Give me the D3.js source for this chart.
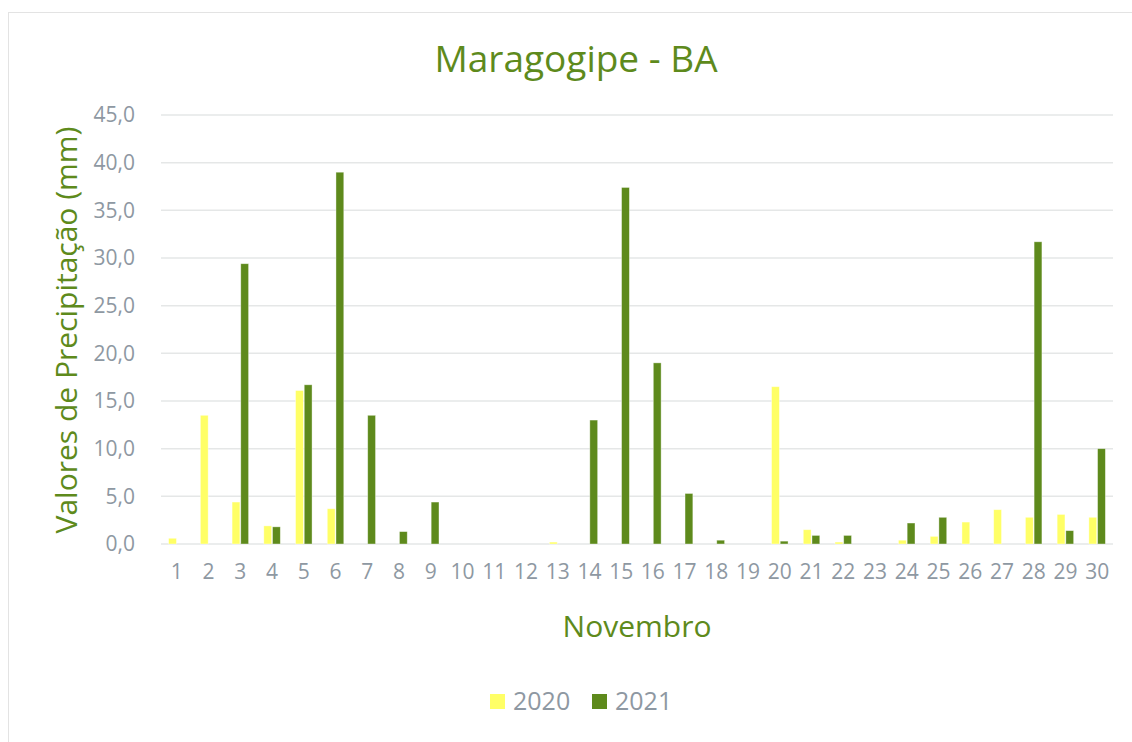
<!DOCTYPE html>
<html>
<head>
<meta charset="utf-8">
<script src="https://cdn.jsdelivr.net/npm/d3@7"></script>
<style>
  html, body { margin: 0; padding: 0; background: #fff; }
  svg { display: block; font-family: "Open Sans", "Noto Sans", sans-serif; }
</style>
</head>
<body>
<div id="chart"></div>
<script>
// Precipitação diária em novembro (mm)
const days = d3.range(1, 31);
const years = ["2020", "2021"];
const values2020 = [0.6, 13.5, 4.4, 1.9, 16.1, 3.7, 0, 0, 0, 0, 0, 0, 0.2, 0, 0,
                    0, 0, 0, 0, 16.5, 1.5, 0.2, 0, 0.4, 0.8, 2.3, 3.6, 2.8, 3.1, 2.8];
const values2021 = [0, 0, 29.4, 1.8, 16.7, 39.0, 13.5, 1.3, 4.4, 0, 0, 0, 0, 13.0, 37.4,
                    19.0, 5.3, 0.4, 0, 0.3, 0.9, 0.9, 0, 2.2, 2.8, 0, 0, 31.7, 1.4, 10.0];
const yTicks = d3.range(0, 46, 5);

const width = 1132, height = 742;
const green = "#5E8A1C";
const colors = { "2020": "#FFFF66", "2021": green };
const textGray = "#8E98A2";

const svg = d3.select("#chart").append("svg")
  .attr("width", width)
  .attr("height", height);

// chart frame
svg.append("rect")
  .attr("x", 8.5).attr("y", 12.5)
  .attr("width", 1140).attr("height", 760)
  .attr("fill", "#fff")
  .attr("stroke", "#E3E3E3");

const x = d3.scaleBand().domain(days).range([161, 1113]).paddingInner(0.48).paddingOuter(0.24);
const xs = d3.scaleBand().domain(years).range([0, x.bandwidth()]).paddingInner(0.1);
const y = d3.scaleLinear().domain([0, 45]).range([544, 115]);

// gridlines
svg.append("g").selectAll("line")
  .data(yTicks)
  .join("line")
  .attr("x1", 161).attr("x2", 1113)
  .attr("y1", d => y(d)).attr("y2", d => y(d))
  .attr("stroke", "#E5E7E7")
  .attr("stroke-width", 1.5);

// y axis labels
const yAxis = d3.axisLeft(y).tickValues(yTicks)
  .tickFormat(d => d3.format(".1f")(d).replace(".", ","))
  .tickSize(0).tickPadding(0);
const gy = svg.append("g").attr("transform", "translate(135,0)").call(yAxis);
gy.select(".domain").remove();
gy.selectAll("text")
  .attr("fill", textGray)
  .attr("font-size", 21)
  .attr("font-family", "\"Open Sans\", sans-serif");

// x axis labels
const xAxis = d3.axisBottom(x).tickSize(0).tickPadding(0);
const gx = svg.append("g").attr("transform", "translate(0,564)").call(xAxis);
gx.select(".domain").remove();
gx.selectAll("text")
  .attr("fill", textGray)
  .attr("font-size", 21)
  .attr("font-family", "\"Open Sans\", sans-serif");

// bars
const series = [
  { year: "2020", values: values2020 },
  { year: "2021", values: values2021 }
];
series.forEach(s => {
  svg.append("g").selectAll("rect")
    .data(days.map((d, i) => ({ day: d, v: s.values[i] })).filter(d => d.v > 0))
    .join("rect")
    .attr("x", d => x(d.day) + xs(s.year))
    .attr("y", d => y(d.v))
    .attr("width", xs.bandwidth())
    .attr("height", d => y(0) - y(d.v))
    .attr("fill", colors[s.year])
    .attr("stroke", "#fff")
    .attr("stroke-opacity", 0.5)
    .attr("stroke-width", 0.75);
});

// title
svg.append("text")
  .attr("x", 576).attr("y", 72)
  .attr("text-anchor", "middle")
  .attr("fill", green)
  .attr("font-size", 37)
  .text("Maragogipe - BA");

// axis titles
svg.append("text")
  .attr("transform", "translate(77,330) rotate(-90)")
  .attr("text-anchor", "middle")
  .attr("fill", green)
  .attr("font-size", 30)
  .text("Valores de Precipitação (mm)");

svg.append("text")
  .attr("x", 637).attr("y", 637)
  .attr("text-anchor", "middle")
  .attr("fill", green)
  .attr("font-size", 30)
  .text("Novembro");

// legend
const legend = svg.append("g").selectAll("g")
  .data(years)
  .join("g")
  .attr("transform", (d, i) => `translate(${490 + i * 102},694)`);
legend.append("rect")
  .attr("width", 15).attr("height", 15)
  .attr("fill", d => colors[d]);
legend.append("text")
  .attr("x", 23).attr("y", 16)
  .attr("fill", textGray)
  .attr("font-size", 25)
  .text(d => d);
</script>
</body>
</html>
